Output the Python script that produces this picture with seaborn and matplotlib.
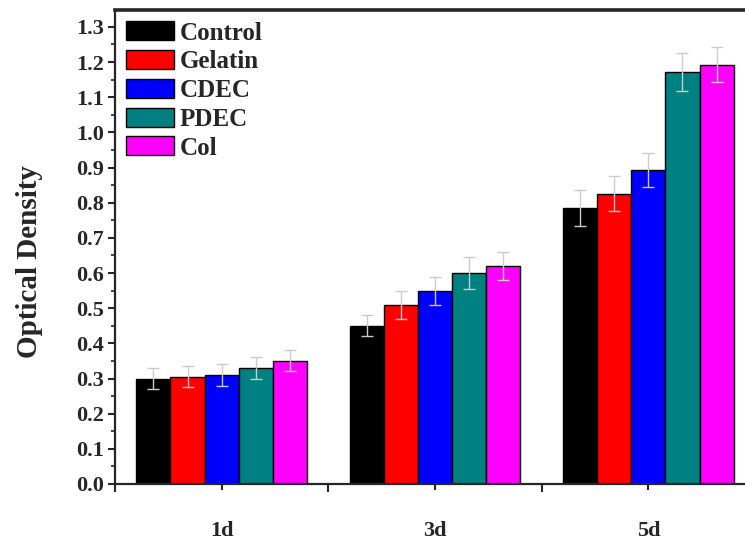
import matplotlib
matplotlib.use("Agg")
import matplotlib.pyplot as plt
from matplotlib.ticker import MultipleLocator, FixedLocator
import seaborn as sns
import pandas as pd

# Optical density measurements (mean and error) per day and group
days = ["1d", "3d", "5d"]
groups = ["Control", "Gelatin", "CDEC", "PDEC", "Col"]
control = [0.30, 0.45, 0.785]
gelatin = [0.305, 0.51, 0.825]
cdec = [0.31, 0.55, 0.893]
pdec = [0.33, 0.60, 1.172]
col = [0.35, 0.62, 1.192]
control_err = [0.03, 0.03, 0.05]
gelatin_err = [0.03, 0.04, 0.05]
cdec_err = [0.03, 0.04, 0.047]
pdec_err = [0.03, 0.045, 0.054]
col_err = [0.03, 0.04, 0.05]

colors = ["#000000", "#ff0000", "#0000ff", "#008080", "#ff00ff"]

means = [control, gelatin, cdec, pdec, col]
errs = [control_err, gelatin_err, cdec_err, pdec_err, col_err]
rows = []
for g, vals in zip(groups, means):
    for d, v in zip(days, vals):
        rows.append({"day": d, "group": g, "od": v})
df = pd.DataFrame(rows)

sns.set_style("ticks")
plt.rcParams["font.family"] = ["Liberation Serif", "DejaVu Serif"]
plt.rcParams["font.weight"] = "bold"

fig = plt.figure(figsize=(7.45, 5.44), dpi=100)
ax = fig.add_axes([0.1544, 0.1103, 0.859, 0.8713])

sns.barplot(data=df, x="day", y="od", hue="group", hue_order=groups,
            order=days, palette=colors, errorbar=None, edgecolor="black",
            linewidth=1, saturation=1, width=0.8, ax=ax)

# error bars placed on each bar drawn by seaborn
for cont, e in zip(ax.containers, errs):
    for patch, err in zip(cont.patches, e):
        xc = patch.get_x() + patch.get_width() / 2
        ax.errorbar(xc, patch.get_height(), yerr=err, color="#cccccc",
                    elinewidth=1, capsize=4, capthick=1, fmt="none", zorder=5)

ax.set_xlim(-0.5, 2.5)
ax.set_ylim(0, 1.348)
ax.yaxis.set_minor_locator(MultipleLocator(0.05))
ax.xaxis.set_minor_locator(FixedLocator([-0.5, 0.5, 1.5, 2.5]))
ax.set_yticks([i / 10 for i in range(14)])
ax.set_yticklabels([f"{i / 10:.1f}" for i in range(14)])

ax.tick_params(axis="y", which="major", direction="out", length=5, width=1.5,
               labelsize=16, pad=3)
ax.tick_params(axis="y", which="minor", direction="out", length=3, width=1.2)
ax.tick_params(axis="x", which="major", direction="out", length=4, width=1.5,
               labelsize=16, pad=23)
ax.tick_params(axis="x", which="minor", direction="out", length=6, width=1.5)
for lab in ax.get_xticklabels() + ax.get_yticklabels():
    lab.set_fontweight("bold")

ax.set_xlabel("")
ax.set_ylabel("Optical Density", fontsize=21, fontweight="bold")
ax.yaxis.set_label_coords(-0.113, 0.47)

for side in ["left", "bottom"]:
    ax.spines[side].set_linewidth(1.6)
ax.spines["top"].set_linewidth(2.6)
ax.spines["right"].set_visible(False)

handles, labels = ax.get_legend_handles_labels()
ax.legend(handles, labels, loc="upper left", bbox_to_anchor=(0.0, 1.0),
          frameon=False, prop={"family": "Liberation Serif", "weight": "bold", "size": 18},
          handlelength=1.9, handleheight=0.8, labelspacing=0.22,
          handletextpad=0.25, borderaxespad=0.25, borderpad=0.2)

fig.savefig("out.png", dpi=100)
